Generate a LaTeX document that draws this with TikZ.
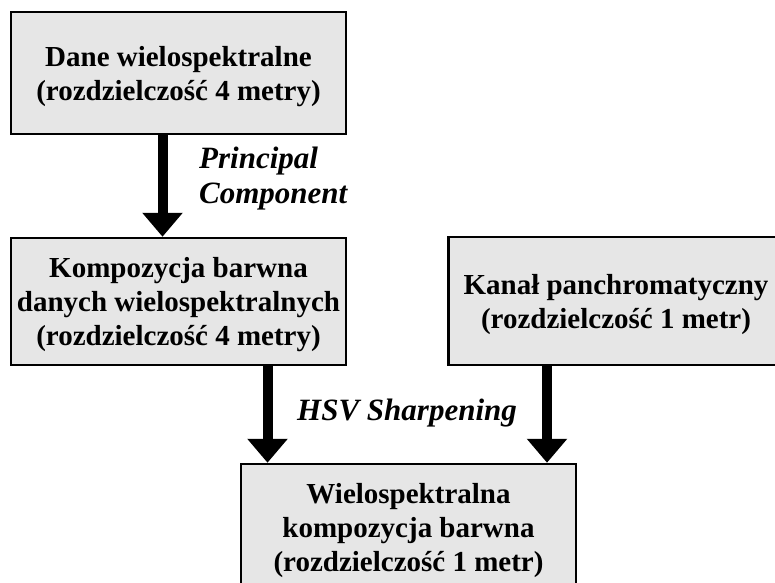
\documentclass[tikz,border=0pt]{standalone}
\usepackage{fontspec}
\setmainfont{Liberation Serif}
\usetikzlibrary{arrows.meta}
\definecolor{szary}{HTML}{E6E6E6}

\begin{document}
\begin{tikzpicture}[x=1pt, y=-1pt,
	blok/.style={rectangle, draw=black, fill=szary, line width=2.5pt, minimum width=335pt, align=center, text depth=0pt, font=\fontsize{29}{34}\selectfont\bfseries},
	strz/.style={draw=black, line width=10pt, -{Triangle[width=39pt, length=24pt]}},
	opis/.style={align=left, anchor=base west, inner sep=0pt, font=\fontsize{31}{35}\selectfont\bfseries\itshape}]
				\useasboundingbox (0,0) rectangle (775,582);
				
				\node[blok, minimum height=122pt] (a) at (178.5,73) {Dane wielospektralne\\(rozdzielczość 4 metry)};
				\node[blok, minimum height=127pt] (b) at (178.5,301.5) {Kompozycja barwna\\danych wielospektralnych\\(rozdzielczość 4 metry)};
				\node[blok, minimum height=128pt] (c) at (616,301) {Kanał panchromatyczny\\(rozdzielczość 1 metr)};
				\node[blok, minimum height=127pt] (d) at (408.5,527.5) {Wielospektralna\\kompozycja barwna\\(rozdzielczość 1 metr)};
				
				\node[opis] (pc) at (199,203) {Principal\\Component};
				\node[opis] (hsv) at (297,420) {HSV Sharpening};
				
				\path[strz] ([xshift=-16pt]a.south) -- ([xshift=-16pt]b.north);
				\path[strz] ([xshift=89pt]b.south) -- ([xshift=-141pt]d.north);
				\path[strz] ([xshift=-69pt]c.south) -- ([xshift=138.5pt]d.north);
				\end{tikzpicture}
\end{document}
